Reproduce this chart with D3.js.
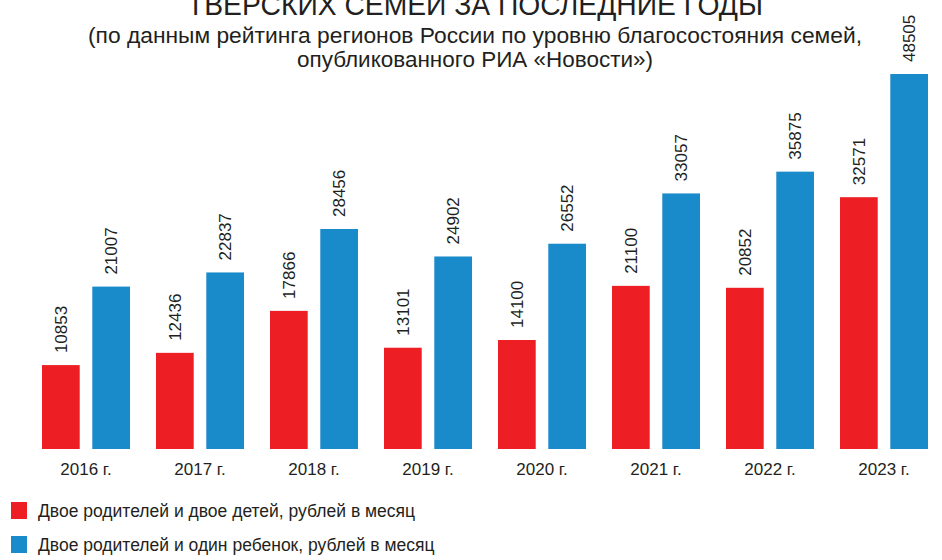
<!DOCTYPE html>
<html>
<head>
<meta charset="utf-8">
<script src="https://cdn.jsdelivr.net/npm/d3@7"></script>
<style>
  body { margin: 0; background: #fff; }
  svg { display: block; font-family: "Liberation Sans", Arial, sans-serif; }
</style>
</head>
<body>
<div id="chart"></div>
<script>
// данные
const years = ['2016 г.', '2017 г.', '2018 г.', '2019 г.', '2020 г.', '2021 г.', '2022 г.', '2023 г.'];
const twoChildren = [10853, 12436, 17866, 13101, 14100, 21100, 20852, 32571];
const oneChild = [21007, 22837, 28456, 24902, 26552, 33057, 35875, 48505];
const seriesNames = [
  'Двое родителей и двое детей, рублей в месяц',
  'Двое родителей и один ребенок, рублей в месяц'
];
const titleLines = [
  'ТВЕРСКИХ СЕМЕЙ ЗА ПОСЛЕДНИЕ ГОДЫ',
  '(по данным рейтинга регионов России по уровню благосостояния семей,',
  'опубликованного РИА «Новости»)'
];

const width = 942, height = 560;
const colors = ['#ED1F24', '#1A8BCA'];
const textColor = '#231f20';

const svg = d3.select('#chart').append('svg')
  .attr('width', width)
  .attr('height', height);

// заголовок (верх обрезан, как в оригинале)
svg.append('text')
  .attr('x', 475).attr('y', 15)
  .attr('text-anchor', 'middle')
  .attr('font-size', 30)
  .attr('fill', textColor)
  .attr('textLength', 576).attr('lengthAdjust', 'spacingAndGlyphs')
  .text(titleLines[0]);

svg.append('text')
  .attr('x', 475).attr('y', 43)
  .attr('text-anchor', 'middle')
  .attr('font-size', 22)
  .attr('fill', textColor)
  .attr('textLength', 774).attr('lengthAdjust', 'spacingAndGlyphs')
  .text(titleLines[1]);

svg.append('text')
  .attr('x', 475).attr('y', 67)
  .attr('text-anchor', 'middle')
  .attr('font-size', 22)
  .attr('fill', textColor)
  .attr('textLength', 356).attr('lengthAdjust', 'spacingAndGlyphs')
  .text(titleLines[2]);

// шкалы
const x0 = d3.scaleBand()
  .domain(years)
  .range([29, 941])
  .paddingInner(0.228)
  .paddingOuter(0.114);

const x1 = d3.scaleBand()
  .domain([0, 1])
  .range([0, x0.bandwidth()])
  .paddingInner(0.25);

const y = d3.scaleLinear()
  .domain([0, 48505])
  .range([449, 74]);

const data = years.map((yr, i) => ({ year: yr, values: [twoChildren[i], oneChild[i]] }));

const groups = svg.selectAll('.group')
  .data(data)
  .enter().append('g')
  .attr('class', 'group')
  .attr('transform', d => `translate(${x0(d.year)},0)`);

groups.selectAll('rect')
  .data(d => d.values.map((v, k) => ({ k, v })))
  .enter().append('rect')
  .attr('x', d => x1(d.k))
  .attr('width', x1.bandwidth())
  .attr('y', d => y(d.v))
  .attr('height', d => y(0) - y(d.v))
  .attr('fill', d => colors[d.k]);

groups.selectAll('.val')
  .data(d => d.values.map((v, k) => ({ k, v })))
  .enter().append('text')
  .attr('class', 'val')
  .attr('transform', d => `translate(${x1(d.k) + x1.bandwidth() / 2},${y(d.v) - 12}) rotate(-90)`)
  .attr('dy', '0.35em')
  .attr('font-size', 17)
  .attr('fill', textColor)
  .text(d => d.v);

// ось X (подписи лет)
const xAxis = svg.append('g')
  .attr('transform', 'translate(0,449)')
  .call(d3.axisBottom(x0).tickSize(0).tickPadding(14));
xAxis.select('.domain').remove();
xAxis.selectAll('text')
  .attr('font-size', 17)
  .attr('font-family', '"Liberation Sans", Arial, sans-serif')
  .attr('fill', textColor);

// легенда
const legend = svg.selectAll('.legend')
  .data(seriesNames)
  .enter().append('g')
  .attr('class', 'legend')
  .attr('transform', (d, i) => `translate(11,${502 + i * 34})`);

legend.append('rect')
  .attr('width', 16).attr('height', 17)
  .attr('fill', (d, i) => colors[i]);

legend.append('text')
  .attr('x', 27).attr('y', 15)
  .attr('font-size', 17.5)
  .attr('fill', textColor)
  .text(d => d);
</script>
</body>
</html>
